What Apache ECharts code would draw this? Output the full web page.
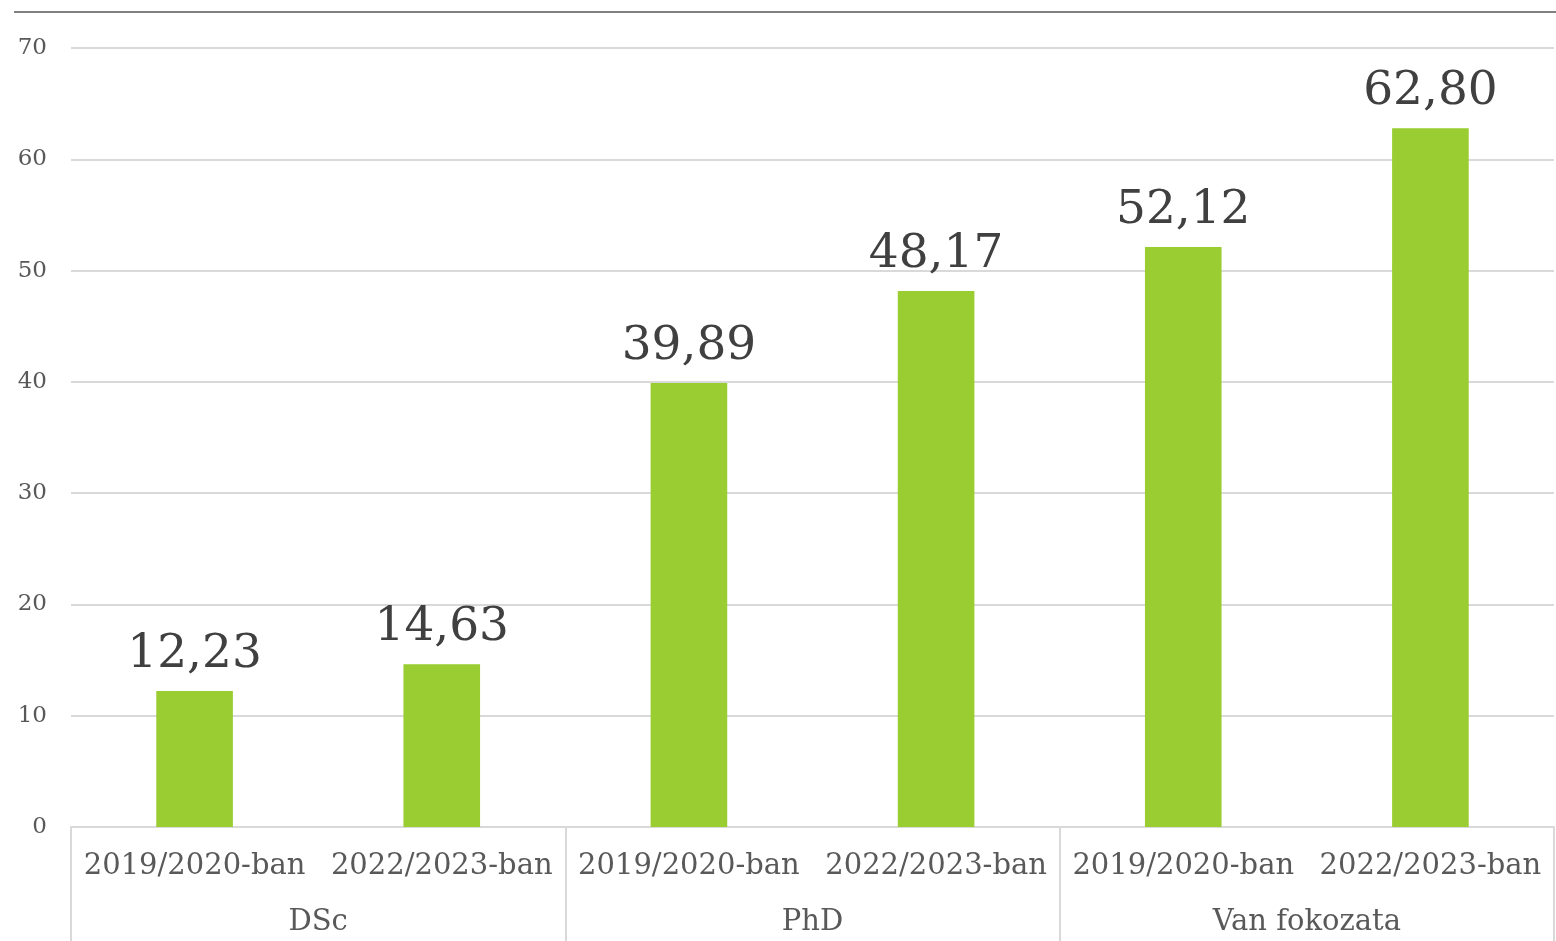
<!DOCTYPE html>
<html>
<head>
<meta charset="utf-8">
<script src="https://cdn.jsdelivr.net/npm/echarts@6/dist/echarts.min.js"></script>
<style>
html,body{margin:0;padding:0;background:#fff;}
#chart{width:1556px;height:941px;}
</style>
</head>
<body>
<div id="chart"></div>
<script>
const periods = ['2019/2020-ban','2022/2023-ban','2019/2020-ban','2022/2023-ban','2019/2020-ban','2022/2023-ban'];
const groups = ['DSc','PhD','Van fokozata'];
const values = [12.23, 14.63, 39.89, 48.17, 52.12, 62.80];
const yTicks = {min: 0, max: 70, interval: 10};

const FONT = '"DejaVu Serif", "Liberation Serif", serif';
const chart = echarts.init(document.getElementById('chart'));
chart.setOption({
  animation: false,
  backgroundColor: '#ffffff',
  grid: {left: 71, right: 2, top: 48, bottom: 114, containLabel: false},
  graphic: [{
    type: 'line',
    shape: {x1: 14, y1: 12, x2: 1556, y2: 12},
    style: {stroke: '#808080', lineWidth: 2}
  }],
  xAxis: [{
    type: 'category',
    data: periods,
    position: 'bottom',
    axisLine: {show: true, lineStyle: {color: '#d9d9d9', width: 2}},
    axisTick: {show: false},
    axisLabel: {interval: 0, margin: 25, color: '#595959', fontFamily: FONT, fontSize: 29}
  }, {
    type: 'category',
    data: groups,
    position: 'bottom',
    axisLine: {show: false},
    axisTick: {show: true, length: 114, interval: 0, lineStyle: {color: '#d9d9d9', width: 2}},
    axisLabel: {interval: 0, margin: 81, color: '#595959', fontFamily: FONT, fontSize: 29}
  }],
  yAxis: {
    type: 'value',
    min: yTicks.min, max: yTicks.max, interval: yTicks.interval,
    axisLine: {show: false},
    axisTick: {show: false},
    splitLine: {lineStyle: {color: '#d9d9d9', width: 2}},
    axisLabel: {margin: 24, color: '#595959', fontFamily: FONT, fontSize: 23}
  },
  series: [{
    type: 'bar',
    xAxisIndex: 0,
    data: values,
    barWidth: '31%',
    itemStyle: {color: '#9ACD32'},
    label: {
      show: true, position: 'top', distance: 13,
      color: '#404040', fontFamily: FONT, fontSize: 47,
      formatter: p => p.value.toFixed(2).replace('.', ',')
    }
  }]
});
</script>
</body>
</html>
